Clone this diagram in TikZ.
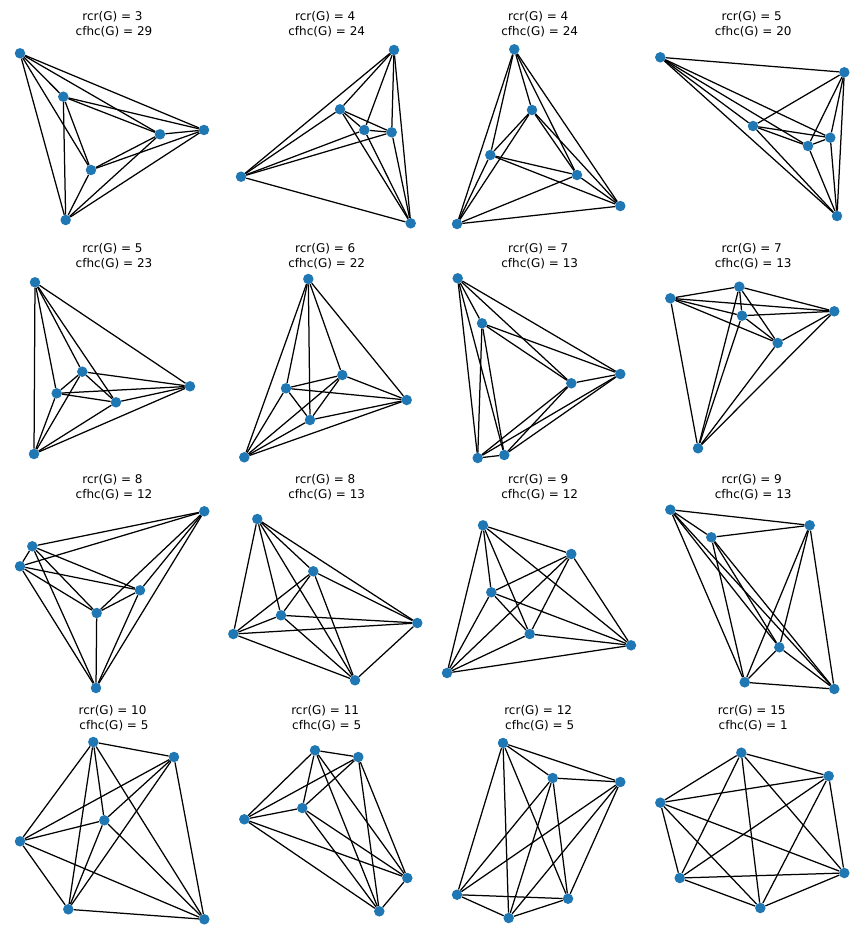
\documentclass[tikz,border=0pt]{standalone}
\usepackage{fontspec}
\setmainfont{DejaVu Sans}
\definecolor{mplblue}{HTML}{1F77B4}
\tikzset{
  vtx/.style={circle, fill=mplblue, draw=none, inner sep=0pt, minimum size=10.5pt},
  edgeline/.style={black, line width=1.25pt},
  ttl/.style={font=\fontsize{12}{14}\selectfont, inner sep=0pt}
}
\newcommand{\kpanel}[2]{%
  \foreach \x/\y [count=\i] in {#2} { \node[vtx] (#1-\i) at (\x,\y) {}; }
  \foreach \i in {1,...,5} {
    \pgfmathtruncatemacro\jstart{\i+1}
    \foreach \j in {\jstart,...,6} { \draw[edgeline] (#1-\i) -- (#1-\j); }
  }
}
\begin{document}
\begin{tikzpicture}[x=1pt,y=-1pt]
\useasboundingbox (0,0) rectangle (864,936);
% titles
\node[ttl] (t1a) at (112.5,16.8) {rcr(G) = 3};   \node[ttl] (t1b) at (114,31.8) {cfhc(G) = 29};
\node[ttl] (t2a) at (325.2,16.8) {rcr(G) = 4};   \node[ttl] (t2b) at (326.7,31.8) {cfhc(G) = 24};
\node[ttl] (t3a) at (538.2,16.8) {rcr(G) = 4};   \node[ttl] (t3b) at (539.7,31.8) {cfhc(G) = 24};
\node[ttl] (t4a) at (751.7,16.8) {rcr(G) = 5};   \node[ttl] (t4b) at (753.2,31.8) {cfhc(G) = 20};
\node[ttl] (t5a) at (112.5,248.5) {rcr(G) = 5};  \node[ttl] (t5b) at (114,263.5) {cfhc(G) = 23};
\node[ttl] (t6a) at (325.2,248.5) {rcr(G) = 6};  \node[ttl] (t6b) at (326.7,263.5) {cfhc(G) = 22};
\node[ttl] (t7a) at (538.2,248.5) {rcr(G) = 7};  \node[ttl] (t7b) at (539.7,263.5) {cfhc(G) = 13};
\node[ttl] (t8a) at (751.7,248.5) {rcr(G) = 7};  \node[ttl] (t8b) at (753.2,263.5) {cfhc(G) = 13};
\node[ttl] (t9a) at (112.5,479.5) {rcr(G) = 8};  \node[ttl] (t9b) at (114,494.5) {cfhc(G) = 12};
\node[ttl] (t10a) at (325.2,479.5) {rcr(G) = 8}; \node[ttl] (t10b) at (326.7,494.5) {cfhc(G) = 13};
\node[ttl] (t11a) at (538.2,479.5) {rcr(G) = 9}; \node[ttl] (t11b) at (539.7,494.5) {cfhc(G) = 12};
\node[ttl] (t12a) at (751.7,479.5) {rcr(G) = 9}; \node[ttl] (t12b) at (753.2,494.5) {cfhc(G) = 13};
\node[ttl] (t13a) at (112.5,711.2) {rcr(G) = 10}; \node[ttl] (t13b) at (114,726.2) {cfhc(G) = 5};
\node[ttl] (t14a) at (325.2,711.2) {rcr(G) = 11}; \node[ttl] (t14b) at (326.7,726.2) {cfhc(G) = 5};
\node[ttl] (t15a) at (538.2,711.2) {rcr(G) = 12}; \node[ttl] (t15b) at (539.7,726.2) {cfhc(G) = 5};
\node[ttl] (t16a) at (751.7,711.2) {rcr(G) = 15}; \node[ttl] (t16b) at (753.2,726.2) {cfhc(G) = 1};
% panels (K6 on different point sets)
\kpanel{pa}{20/53.3, 63.3/96.7, 160/134.3, 204/130, 91/170, 65.7/220}
\kpanel{pb}{394/50, 340/109.3, 364.3/130, 391.7/132.3, 241/176.7, 410.7/223.3}
\kpanel{pc}{514.3/49.3, 532/110, 490.3/155, 577/175, 620.3/206, 457/224}
\kpanel{pd}{660.3/57.3, 844.3/72.3, 753/126, 830.3/137.7, 808/146, 837/216}
\kpanel{pe}{35/282.3, 82.3/371.7, 56.7/393.3, 116/402.3, 190/386.3, 34/454}
\kpanel{pf}{308.3/279, 342.3/375, 286/388.3, 406.7/400, 310/420, 244.3/457.3}
\kpanel{pg}{457.7/278.3, 482/323.3, 571.3/383.3, 620.3/374, 477.7/458, 504.3/455}
\kpanel{ph}{670.3/298.3, 739.3/286.7, 742/315.7, 834.3/311.3, 777.7/343, 698/448.3}
\kpanel{pi}{204.3/511.3, 32.3/546.3, 20/566.3, 140/590.3, 96.7/613, 96/688}
\kpanel{pj}{257.3/519, 313.3/571.3, 281/615.3, 233.3/634, 417.3/623, 355/680.3}
\kpanel{pk}{483/525.3, 571.3/554, 491.3/592.3, 529.7/634, 631/645.3, 447/673}
\kpanel{pl}{670.3/509.7, 809.7/525.3, 711.3/537.3, 779.3/647.3, 744.7/682.3, 834.3/689}
\kpanel{pm}{93.3/742, 174/757, 104.3/820.3, 20/841.3, 68.3/909.3, 204.3/919.3}
\kpanel{pn}{315/750.3, 358.3/757, 302.3/808, 244.3/819.3, 407.3/878, 379.3/911.3}
\kpanel{po}{503/743, 552.7/778, 620.3/782, 457/894.7, 568/898.7, 508.7/918}
\kpanel{pp}{741.3/752.7, 828.7/776, 660.3/802.7, 679.7/878, 844.3/873, 760.3/908}
\end{tikzpicture}
\end{document}
